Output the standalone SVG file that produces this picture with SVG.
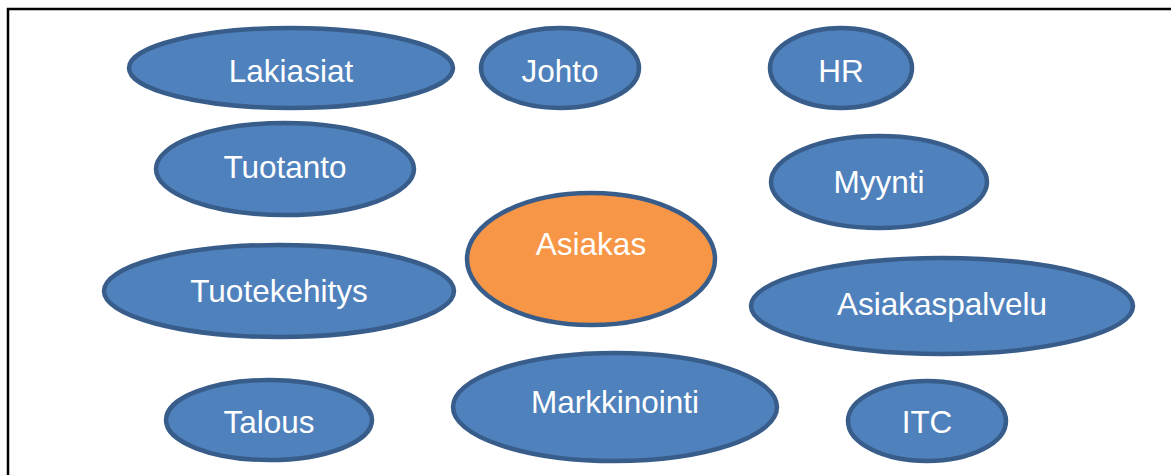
<svg xmlns="http://www.w3.org/2000/svg" width="1171" height="475" viewBox="0 0 1171 475">
<style>
.n{fill:#4f81bd;stroke:#385d8a;stroke-width:4.5}
.c{fill:#f79646;stroke:#385d8a;stroke-width:4.5}
text{font-family:"Liberation Sans",Arial,sans-serif;font-size:31.5px;fill:#fff;text-anchor:middle}
</style>
<rect width="1171" height="475" fill="#fff"/>
<rect x="8" y="9" width="1170" height="480" fill="none" stroke="#000" stroke-width="2.5"/>
<g id="connectors"></g>
<g id="lakiasiat"><ellipse class="n" cx="291" cy="68" rx="162" ry="40"/><text x="291" y="82">Lakiasiat</text></g>
<g id="johto"><ellipse class="n" cx="560" cy="68" rx="79" ry="40"/><text x="560" y="82">Johto</text></g>
<g id="hr"><ellipse class="n" cx="841" cy="68" rx="71" ry="40"/><text x="841" y="82">HR</text></g>
<g id="tuotanto"><ellipse class="n" cx="285" cy="169" rx="129" ry="46"/><text x="285" y="178">Tuotanto</text></g>
<g id="myynti"><ellipse class="n" cx="879" cy="182" rx="108" ry="46"/><text x="879" y="193">Myynti</text></g>
<g id="asiakas"><ellipse class="c" cx="591" cy="259" rx="124" ry="66"/><text x="591" y="255">Asiakas</text></g>
<g id="tuotekehitys"><ellipse class="n" cx="279" cy="291" rx="175" ry="46"/><text x="279" y="302">Tuotekehitys</text></g>
<g id="asiakaspalvelu"><ellipse class="n" cx="942" cy="306" rx="191" ry="48"/><text x="942" y="315">Asiakaspalvelu</text></g>
<g id="talous"><ellipse class="n" cx="269" cy="420" rx="103" ry="40"/><text x="269" y="433">Talous</text></g>
<g id="markkinointi"><ellipse class="n" cx="615" cy="407" rx="162" ry="54"/><text x="615" y="413">Markkinointi</text></g>
<g id="itc"><ellipse class="n" cx="927" cy="421" rx="79" ry="40"/><text x="927" y="433">ITC</text></g>
</svg>
